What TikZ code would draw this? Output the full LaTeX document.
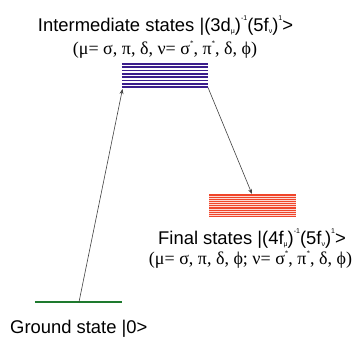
\documentclass[tikz,border=0pt]{standalone}
\usepackage{fontspec}
\setmainfont{Liberation Serif}
\setsansfont{Liberation Sans}
\usetikzlibrary{arrows.meta}

\definecolor{interblue}{HTML}{3B1E8C}
\definecolor{finalred}{HTML}{F0452A}
\definecolor{groundgreen}{HTML}{1E7A2E}
\definecolor{arrowgray}{HTML}{404040}

\newcommand{\lsub}[1]{\raisebox{-0.25ex}{\fontsize{7}{7}\selectfont #1}}
\newcommand{\lsup}[1]{\raisebox{1.1ex}{\fontsize{7}{7}\selectfont #1}}

\tikzset{
  sanslabel/.style={font=\sffamily\fontsize{18.4}{20}\selectfont, inner sep=0pt},
  seriflabel/.style={font=\rmfamily\fontsize{18}{20}\selectfont, inner sep=0pt},
  transition/.style={-{Stealth[length=5pt,width=4pt]}, arrowgray, line width=0.6pt}
}

\begin{document}
\begin{tikzpicture}[x=1pt, y=-1pt]
  \useasboundingbox (0,0) rectangle (360,338);

  % Niveaux
  \coordinate (GL) at (35,302);
  \coordinate (GR) at (122,302);
  \coordinate (IL) at (122,64);
  \coordinate (IR) at (208,87);
  \coordinate (FL) at (209,194);
  \coordinate (FR) at (296,217);

  % Etat fondamental
  \draw[groundgreen, line width=2pt] (GL) -- (GR);

  % Etats intermediaires (bleu)
  \foreach \k in {0,...,7}
    \draw[interblue, line width=1.7pt] (122,64+3.3*\k) -- (208,64+3.3*\k);

  % Etats finaux (rouge)
  \fill[finalred] (FL) rectangle (FR);
  \foreach \k in {1,...,10}
    \draw[white, line width=0.3pt, opacity=0.8] (209,194+2.1*\k) -- (296,194+2.1*\k);

  % Transitions
  \coordinate (gsrc) at (79,302);
  \coordinate (itop) at (122.5,89);
  \coordinate (isrc) at (208,87.5);
  \coordinate (ftop) at (252,194);
  \draw[transition] (gsrc) -- (itop);
  \draw[transition] (isrc) -- (ftop);

  % Textes
  \node[sanslabel] (intertxt) at (165.5,25.5)
    {Intermediate states |(3d\lsub{μ})\lsup{-1}(5f\lsub{ν})\lsup{1}>};
  \node[seriflabel] (intersym) at (165,49.5)
    {(μ= σ, π, δ, ν= σ\lsup{*}, π\lsup{*}, δ, ϕ)};
  \node[sanslabel] (finaltxt) at (252,238.5)
    {Final states |(4f\lsub{μ})\lsup{-1}(5f\lsub{ν})\lsup{1}>};
  \node[seriflabel] (finalsym) at (250.5,260)
    {(μ= σ, π, δ, ϕ; ν= σ\lsup{*}, π\lsup{*}, δ, ϕ)};
  \node[sanslabel, anchor=west] (groundtxt) at (10,328.5) {Ground state |0>};
\end{tikzpicture}
\end{document}
